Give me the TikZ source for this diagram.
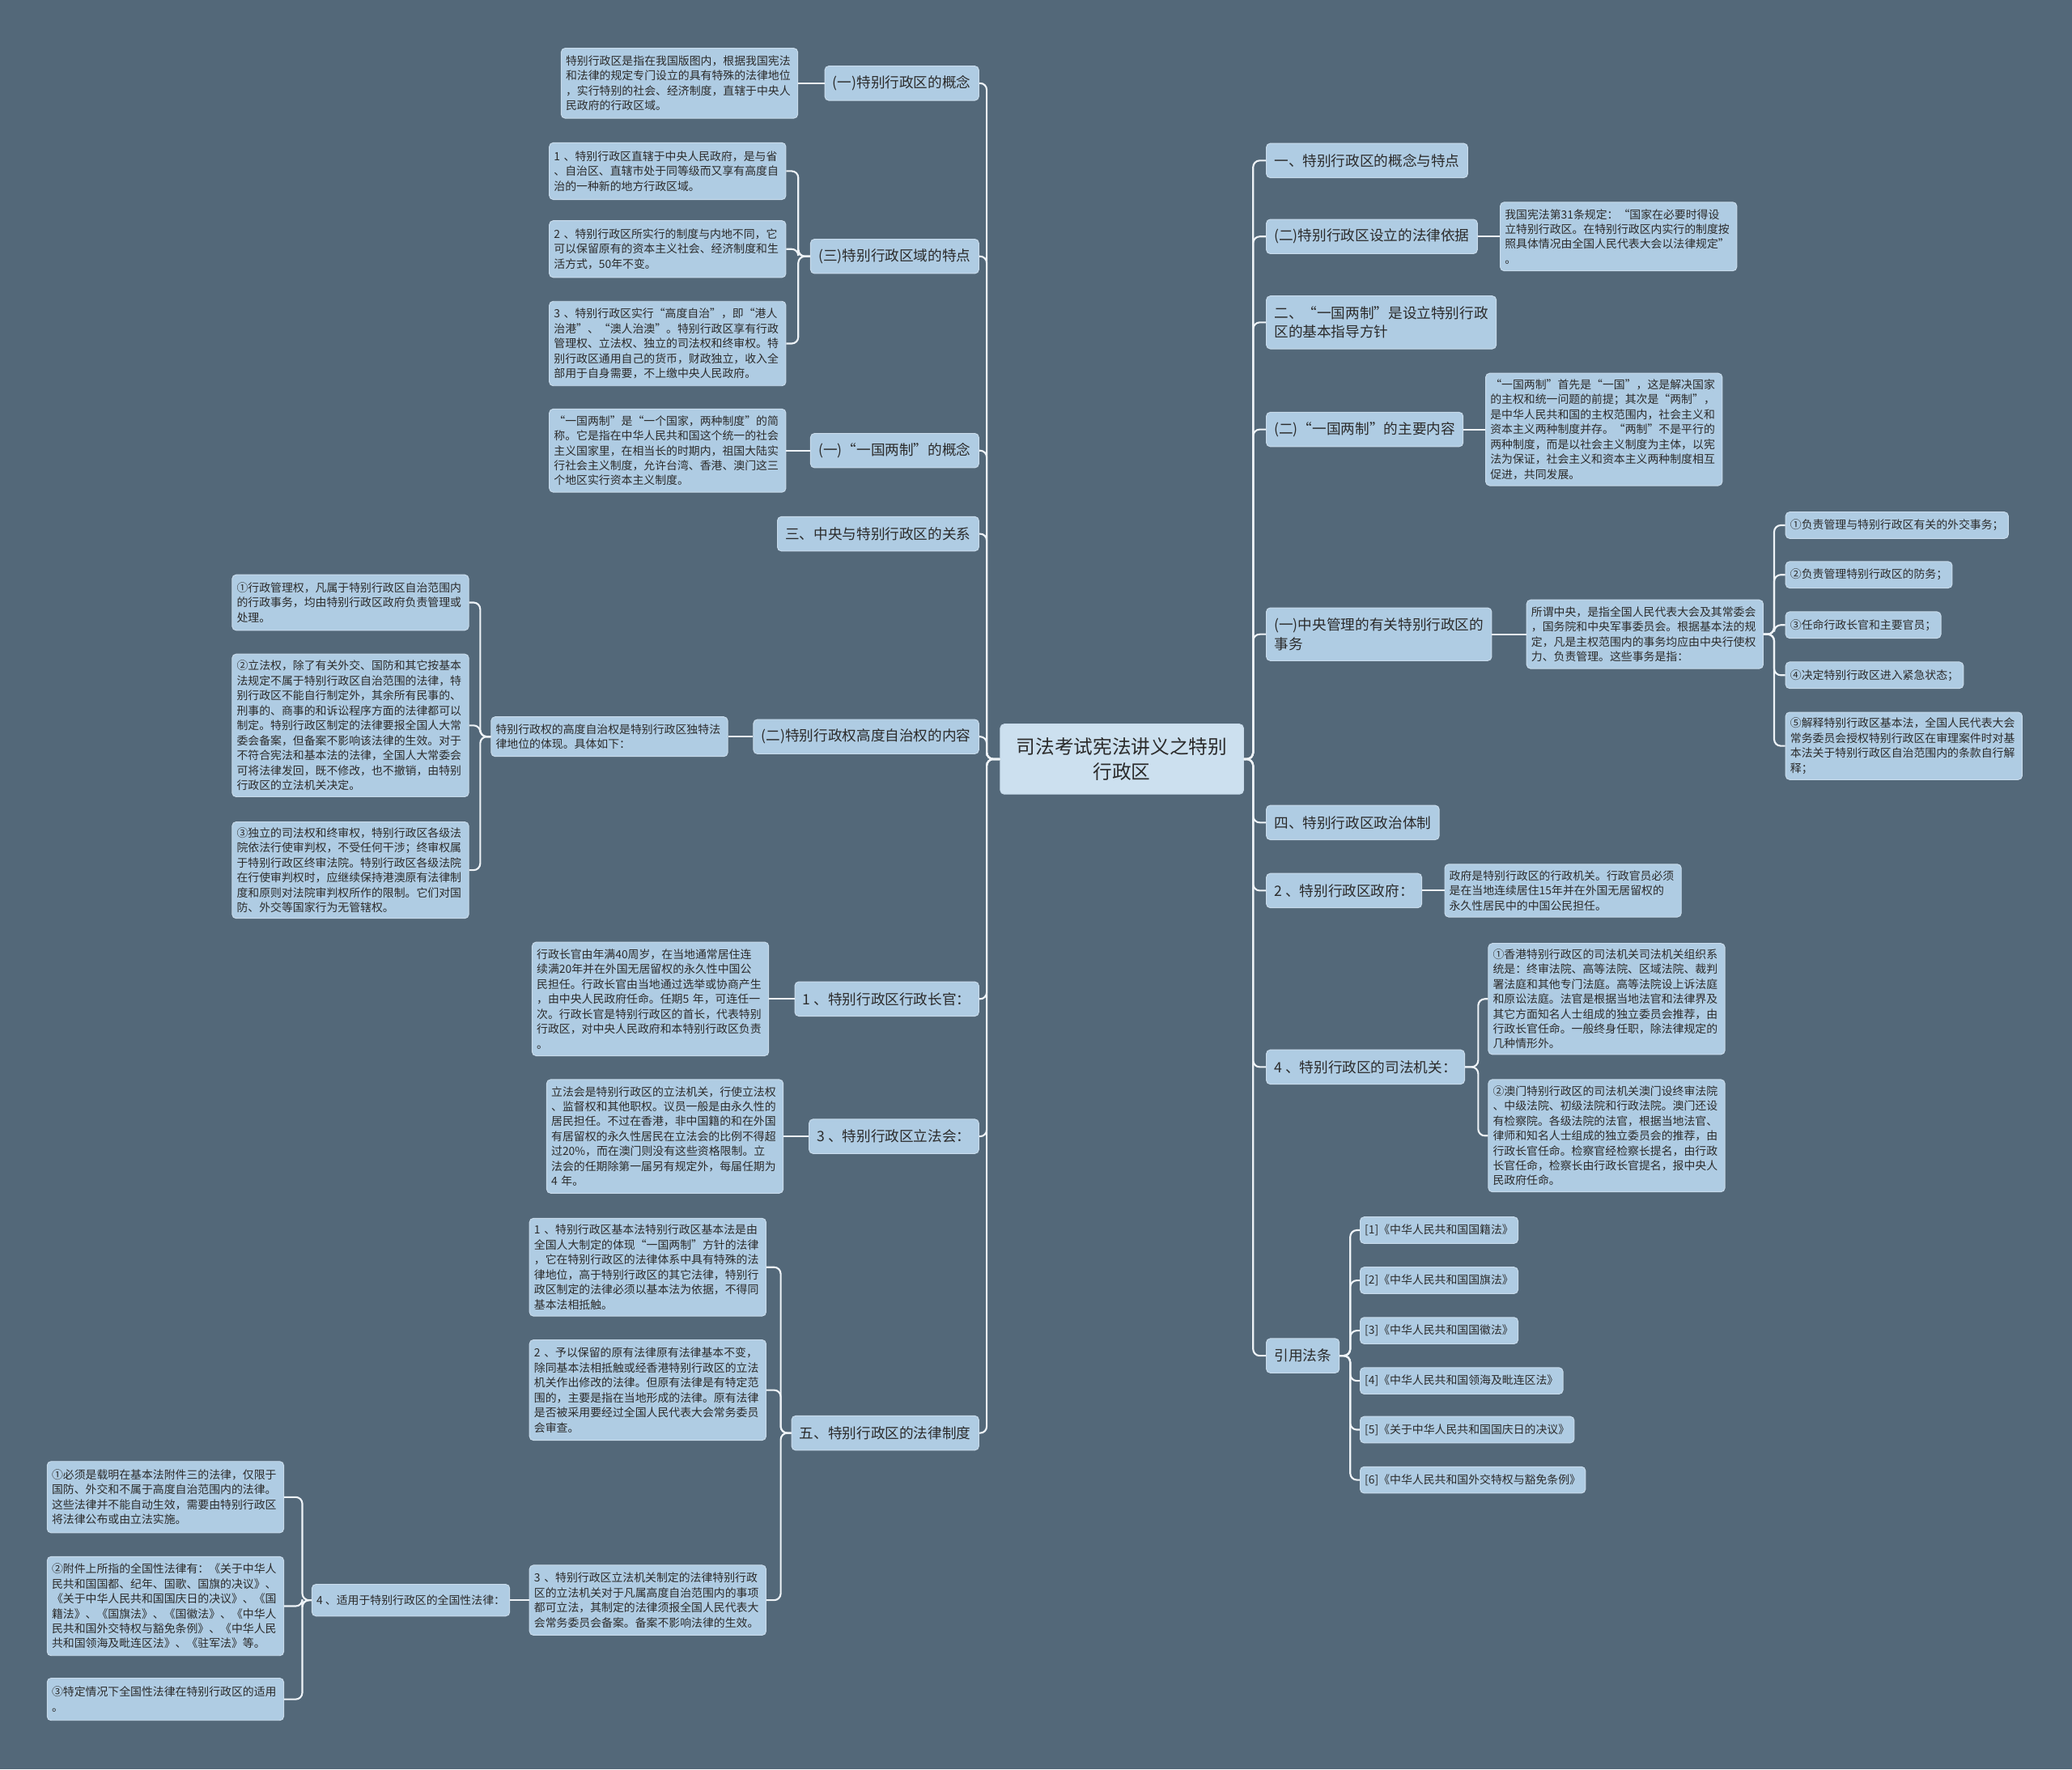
\documentclass[tikz,border=0pt]{standalone}
\usepackage{fontspec}
\setmainfont{Noto Sans CJK SC}
\definecolor{bg}{HTML}{536879}
\definecolor{nodefill}{HTML}{AFCCE3}
\definecolor{nodeline}{HTML}{C8DBEB}
\definecolor{txt}{HTML}{2B2B2B}
\definecolor{linec}{HTML}{EEF3F7}
\definecolor{cfill}{HTML}{CCE0EF}
\tikzset{
 base/.style={rectangle, rounded corners=3pt, fill=nodefill, draw=nodeline, line width=0.6pt, text=txt, inner xsep=3.5pt, inner ysep=3pt},
 tbox/.style={base, font=\fontsize{8.5}{11.3}\selectfont, text width=172pt, align=left},
 sbox/.style={base, font=\fontsize{8.5}{11.3}\selectfont, minimum height=20pt},
 head/.style={base, font=\fontsize{10.8}{14.5}\selectfont, inner xsep=6pt, minimum height=26pt, align=left},
 centre/.style={base, fill=cfill, font=\fontsize{14.5}{19}\selectfont, align=center, minimum width=184pt, minimum height=53pt},
 conn/.style={draw=linec, line width=1.3pt, rounded corners=5pt}
}
\begin{document}
\begin{tikzpicture}[x=1pt,y=-1pt]
\fill[bg] (0,0) rectangle (1568,1339);
\useasboundingbox (0,0) rectangle (1568,1339);

% centre
\node[centre] (C) at (849,574.5) {司法考试宪法讲义之特别\\行政区};

% ---------- left headers ----------
\node[head, anchor=east] (L1) at (741,63) {(一)特别行政区的概念};
\node[head, anchor=east] (L2) at (741,194) {(三)特别行政区域的特点};
\node[head, anchor=east] (L3) at (741,341) {(一)“一国两制”的概念};
\node[head, anchor=east] (L4) at (741,404) {三、中央与特别行政区的关系};
\node[head, anchor=east] (L5) at (741,557.5) {(二)特别行政权高度自治权的内容};
\node[head, anchor=east] (L6) at (741,756) {1 、特别行政区行政长官：};
\node[head, anchor=east] (L7) at (741,860) {3 、特别行政区立法会：};
\node[head, anchor=east] (L8) at (741,1084.5) {五、特别行政区的法律制度};

% ---------- left boxes ----------
\node[tbox, anchor=east, minimum height=53pt] (A1) at (604,63) {特别行政区是指在我国版图内，根据我国宪法\\和法律的规定专门设立的具有特殊的法律地位\\，实行特别的社会、经济制度，直辖于中央人\\民政府的行政区域。};

\node[tbox, anchor=east, minimum height=43pt] (B1) at (595,129.5) {1 、特别行政区直辖于中央人民政府，是与省\\、自治区、直辖市处于同等级而又享有高度自\\治的一种新的地方行政区域。};
\node[tbox, anchor=east, minimum height=43pt] (B2) at (595,188.5) {2 、特别行政区所实行的制度与内地不同，它\\可以保留原有的资本主义社会、经济制度和生\\活方式，50年不变。};
\node[tbox, anchor=east, minimum height=64pt] (B3) at (595,260) {3 、特别行政区实行“高度自治”，即“港人\\治港”、“澳人治澳”。特别行政区享有行政\\管理权、立法权、独立的司法权和终审权。特\\别行政区通用自己的货币，财政独立，收入全\\部用于自身需要，不上缴中央人民政府。};

\node[tbox, anchor=east, minimum height=63pt] (C1) at (595,341) {“一国两制”是“一个国家，两种制度”的简\\称。它是指在中华人民共和国这个统一的社会\\主义国家里，在相当长的时期内，祖国大陆实\\行社会主义制度，允许台湾、香港、澳门这三\\个地区实行资本主义制度。};

\node[tbox, anchor=east, minimum height=30pt] (D0) at (551,557.5) {特别行政权的高度自治权是特别行政区独特法\\律地位的体现。具体如下：};
\node[tbox, anchor=east, minimum height=42pt] (D1) at (355,456) {①行政管理权，凡属于特别行政区自治范围内\\的行政事务，均由特别行政区政府负责管理或\\处理。};
\node[tbox, anchor=east, minimum height=108pt] (D2) at (355,549) {②立法权，除了有关外交、国防和其它按基本\\法规定不属于特别行政区自治范围的法律，特\\别行政区不能自行制定外，其余所有民事的、\\刑事的、商事的和诉讼程序方面的法律都可以\\制定。特别行政区制定的法律要报全国人大常\\委会备案，但备案不影响该法律的生效。对于\\不符合宪法和基本法的法律，全国人大常委会\\可将法律发回，既不修改，也不撤销，由特别\\行政区的立法机关决定。};
\node[tbox, anchor=east, minimum height=73pt] (D3) at (355,658.5) {③独立的司法权和终审权，特别行政区各级法\\院依法行使审判权，不受任何干涉；终审权属\\于特别行政区终审法院。特别行政区各级法院\\在行使审判权时，应继续保持港澳原有法律制\\度和原则对法院审判权所作的限制。它们对国\\防、外交等国家行为无管辖权。};

\node[tbox, anchor=east, minimum height=86pt] (E1) at (582,756) {行政长官由年满40周岁，在当地通常居住连\\续满20年并在外国无居留权的永久性中国公\\民担任。行政长官由当地通过选举或协商产生\\，由中央人民政府任命。任期5 年，可连任一\\次。行政长官是特别行政区的首长，代表特别\\行政区，对中央人民政府和本特别行政区负责\\。};
\node[tbox, anchor=east, minimum height=86pt] (F1) at (593,860) {立法会是特别行政区的立法机关，行使立法权\\、监督权和其他职权。议员一般是由永久性的\\居民担任。不过在香港，非中国籍的和在外国\\有居留权的永久性居民在立法会的比例不得超\\过20\%，而在澳门则没有这些资格限制。立\\法会的任期除第一届另有规定外，每届任期为\\4 年。};

\node[tbox, anchor=east, minimum height=74pt] (G1) at (580,959) {1 、特别行政区基本法特别行政区基本法是由\\全国人大制定的体现“一国两制”方针的法律\\，它在特别行政区的法律体系中具有特殊的法\\律地位，高于特别行政区的其它法律，特别行\\政区制定的法律必须以基本法为依据，不得同\\基本法相抵触。};
\node[tbox, anchor=east, minimum height=76pt] (G2) at (580,1052) {2 、予以保留的原有法律原有法律基本不变，\\除同基本法相抵触或经香港特别行政区的立法\\机关作出修改的法律。但原有法律是有特定范\\围的，主要是指在当地形成的法律。原有法律\\是否被采用要经过全国人民代表大会常务委员\\会审查。};
\node[tbox, anchor=east, minimum height=53pt] (G3) at (580,1211) {3 、特别行政区立法机关制定的法律特别行政\\区的立法机关对于凡属高度自治范围内的事项\\都可立法，其制定的法律须报全国人民代表大\\会常务委员会备案。备案不影响法律的生效。};
\node[sbox, anchor=east, minimum height=24pt] (G4) at (386,1211) {4 、适用于特别行政区的全国性法律：};

\node[tbox, anchor=east, minimum height=54pt] (H1) at (215,1133) {①必须是载明在基本法附件三的法律，仅限于\\国防、外交和不属于高度自治范围内的法律。\\这些法律并不能自动生效，需要由特别行政区\\将法律公布或由立法实施。};
\node[tbox, anchor=east, minimum height=75pt] (H2) at (215,1215.5) {②附件上所指的全国性法律有：《关于中华人\\民共和国国都、纪年、国歌、国旗的决议》、\\《关于中华人民共和国国庆日的决议》、《国\\籍法》、《国旗法》、《国徽法》、《中华人\\民共和国外交特权与豁免条例》、《中华人民\\共和国领海及毗连区法》、《驻军法》等。};
\node[tbox, anchor=east, minimum height=32pt] (H3) at (215,1286) {③特定情况下全国性法律在特别行政区的适用\\。};

% ---------- right headers ----------
\node[head, anchor=west] (R1) at (958,121.5) {一、特别行政区的概念与特点};
\node[head, anchor=west] (R2) at (958,179) {(二)特别行政区设立的法律依据};
\node[head, anchor=west, minimum height=40pt] (R3) at (958,244) {二、“一国两制”是设立特别行政\\区的基本指导方针};
\node[head, anchor=west] (R4) at (958,325) {(二)“一国两制”的主要内容};
\node[head, anchor=west, minimum height=40pt] (R5) at (958,480) {(一)中央管理的有关特别行政区的\\事务};
\node[head, anchor=west] (R6) at (958,622.5) {四、特别行政区政治体制};
\node[head, anchor=west] (R7) at (958,674) {2 、特别行政区政府：};
\node[head, anchor=west] (R8) at (958,807.5) {4 、特别行政区的司法机关：};
\node[head, anchor=west] (R9) at (958,1026) {引用法条};

% ---------- right boxes ----------
\node[tbox, anchor=west, minimum height=52pt] (R2a) at (1135,179) {我国宪法第31条规定：“国家在必要时得设\\立特别行政区。在特别行政区内实行的制度按\\照具体情况由全国人民代表大会以法律规定”\\。};
\node[tbox, anchor=west, minimum height=85pt] (R4a) at (1124,325) {“一国两制”首先是“一国”，这是解决国家\\的主权和统一问题的前提；其次是“两制”，\\是中华人民共和国的主权范围内，社会主义和\\资本主义两种制度并存。“两制”不是平行的\\两种制度，而是以社会主义制度为主体，以宪\\法为保证，社会主义和资本主义两种制度相互\\促进，共同发展。};
\node[tbox, anchor=west, minimum height=52pt] (R5a) at (1155,480) {所谓中央，是指全国人民代表大会及其常委会\\，国务院和中央军事委员会。根据基本法的规\\定，凡是主权范围内的事务均应由中央行使权\\力、负责管理。这些事务是指：};
\node[sbox, anchor=west] (R5i1) at (1351,397.5) {①负责管理与特别行政区有关的外交事务；};
\node[sbox, anchor=west] (R5i2) at (1351,435) {②负责管理特别行政区的防务；};
\node[sbox, anchor=west] (R5i3) at (1351,473) {③任命行政长官和主要官员；};
\node[sbox, anchor=west] (R5i4) at (1351,511) {④决定特别行政区进入紧急状态；};
\node[tbox, anchor=west, minimum height=51pt] (R5i5) at (1351,564.5) {⑤解释特别行政区基本法，全国人民代表大会\\常务委员会授权特别行政区在审理案件时对基\\本法关于特别行政区自治范围内的条款自行解\\释；};
\node[tbox, anchor=west, minimum height=40pt] (R7a) at (1093,674) {政府是特别行政区的行政机关。行政官员必须\\是在当地连续居住15年并在外国无居留权的\\永久性居民中的中国公民担任。};
\node[tbox, anchor=west, minimum height=84pt] (R8a) at (1126,756) {①香港特别行政区的司法机关司法机关组织系\\统是：终审法院、高等法院、区域法院、裁判\\署法庭和其他专门法庭。高等法院设上诉法庭\\和原讼法庭。法官是根据当地法官和法律界及\\其它方面知名人士组成的独立委员会推荐，由\\行政长官任命。一般终身任职，除法律规定的\\几种情形外。};
\node[tbox, anchor=west, minimum height=85pt] (R8b) at (1126,859.5) {②澳门特别行政区的司法机关澳门设终审法院\\、中级法院、初级法院和行政法院。澳门还设\\有检察院。各级法院的法官，根据当地法官、\\律师和知名人士组成的独立委员会的推荐，由\\行政长官任命。检察官经检察长提名，由行政\\长官任命，检察长由行政长官提名，报中央人\\民政府任命。};
\node[sbox, anchor=west] (R9i1) at (1029,931) {[1]《中华人民共和国国籍法》};
\node[sbox, anchor=west] (R9i2) at (1029,969) {[2]《中华人民共和国国旗法》};
\node[sbox, anchor=west] (R9i3) at (1029,1007) {[3]《中华人民共和国国徽法》};
\node[sbox, anchor=west] (R9i4) at (1029,1045) {[4]《中华人民共和国领海及毗连区法》};
\node[sbox, anchor=west] (R9i5) at (1029,1082) {[5]《关于中华人民共和国国庆日的决议》};
\node[sbox, anchor=west] (R9i6) at (1029,1120) {[6]《中华人民共和国外交特权与豁免条例》};

% ---------- connectors ----------
\foreach \n in {L1,L2,L3,L4,L5,L6,L7,L8}
  \draw[conn] (C.west) -- ++(-10,0) |- (\n.east);
\foreach \n in {R1,R2,R3,R4,R5,R6,R7,R8,R9}
  \draw[conn] (C.east) -- ++(7,0) |- (\n.west);

\draw[conn] (L1.west) -- (A1.east);
\foreach \n in {B1,B2,B3}
  \draw[conn] (L2.west) -- ++(-9,0) |- (\n.east);
\draw[conn] (L3.west) -- (C1.east);
\draw[conn] (L5.west) -- (D0.east);
\foreach \n in {D1,D2,D3}
  \draw[conn] (D0.west) -- ++(-8,0) |- (\n.east);
\draw[conn] (L6.west) -- (E1.east);
\draw[conn] (L7.west) -- (F1.east);
\foreach \n in {G1,G2,G3}
  \draw[conn] (L8.west) -- ++(-8,0) |- (\n.east);
\draw[conn] (G3.west) -- (G4.east);
\foreach \n in {H1,H2,H3}
  \draw[conn] (G4.west) -- ++(-7,0) |- (\n.east);

\draw[conn] (R2.east) -- (R2a.west);
\draw[conn] (R4.east) -- (R4a.west);
\draw[conn] (R5.east) -- (R5a.west);
\foreach \n in {R5i1,R5i2,R5i3,R5i4,R5i5}
  \draw[conn] (R5a.east) -- ++(8,0) |- (\n.west);
\draw[conn] (R7.east) -- (R7a.west);
\foreach \n in {R8a,R8b}
  \draw[conn] (R8.east) -- ++(10,0) |- (\n.west);
\foreach \n in {R9i1,R9i2,R9i3,R9i4,R9i5,R9i6}
  \draw[conn] (R9.east) -- ++(8,0) |- (\n.west);
\end{tikzpicture}
\end{document}
